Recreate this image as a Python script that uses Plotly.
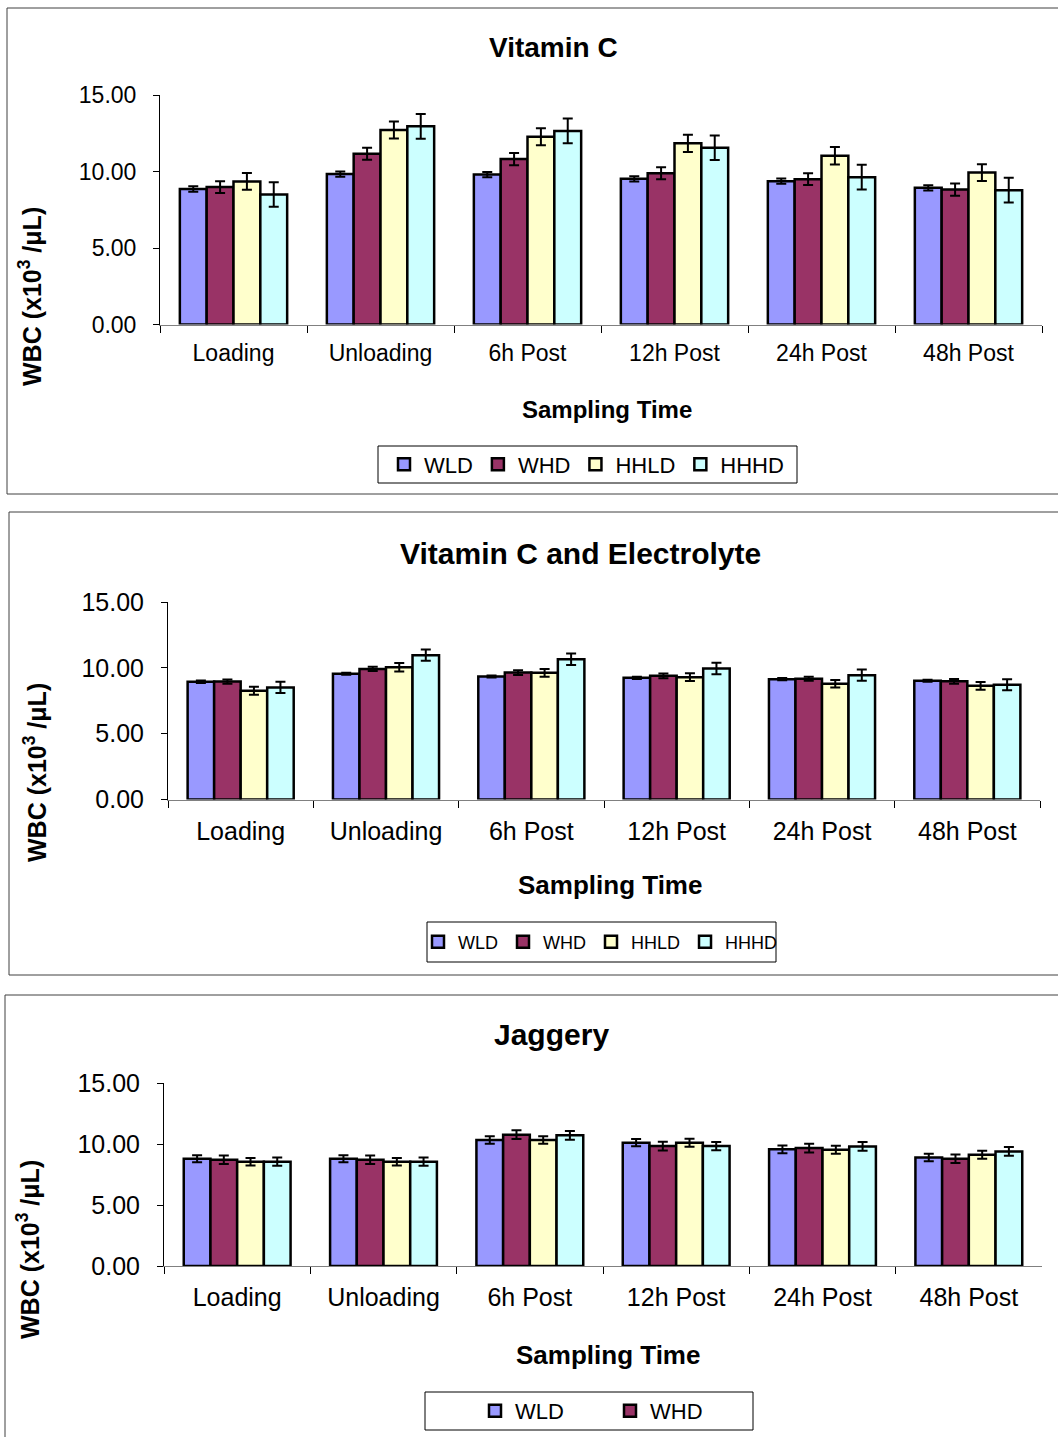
import plotly.graph_objects as go

# ---------------- data ----------------
categories = ["Loading", "Unloading", "6h Post", "12h Post", "24h Post", "48h Post"]
series_names = ["WLD", "WHD", "HHLD", "HHHD"]
tick_values = [0, 5, 10, 15]

# Panel 1: Vitamin C
vitc_WLD = [8.85, 9.83, 9.80, 9.52, 9.37, 8.93]
vitc_WHD = [8.98, 11.16, 10.81, 9.89, 9.50, 8.82]
vitc_HHLD = [9.35, 12.71, 12.27, 11.84, 11.03, 9.93]
vitc_HHHD = [8.49, 12.95, 12.65, 11.55, 9.63, 8.78]
vitc_err_WLD = [0.18, 0.17, 0.17, 0.17, 0.17, 0.17]
vitc_err_WHD = [0.39, 0.39, 0.40, 0.39, 0.39, 0.40]
vitc_err_HHLD = [0.55, 0.55, 0.55, 0.57, 0.57, 0.55]
vitc_err_HHHD = [0.80, 0.81, 0.81, 0.80, 0.81, 0.81]

# Panel 2: Vitamin C and Electrolyte
vce_WLD = [8.94, 9.55, 9.34, 9.24, 9.14, 9.02]
vce_WHD = [8.96, 9.92, 9.64, 9.39, 9.17, 8.98]
vce_HHLD = [8.26, 10.05, 9.62, 9.29, 8.79, 8.63]
vce_HHHD = [8.51, 10.96, 10.65, 9.95, 9.44, 8.71]
vce_err_WLD = [0.10, 0.08, 0.08, 0.08, 0.08, 0.08]
vce_err_WHD = [0.16, 0.16, 0.18, 0.18, 0.16, 0.18]
vce_err_HHLD = [0.30, 0.32, 0.30, 0.29, 0.28, 0.29]
vce_err_HHHD = [0.43, 0.43, 0.43, 0.44, 0.43, 0.42]

# Panel 3: Jaggery
jag_WLD = [8.79, 8.79, 10.33, 10.11, 9.56, 8.90]
jag_WHD = [8.71, 8.71, 10.76, 9.83, 9.67, 8.79]
jag_HHLD = [8.55, 8.55, 10.33, 10.11, 9.53, 9.12]
jag_HHHD = [8.55, 8.55, 10.71, 9.83, 9.80, 9.39]
jag_err_WLD = [0.29, 0.29, 0.30, 0.29, 0.31, 0.31]
jag_err_WHD = [0.34, 0.34, 0.36, 0.36, 0.36, 0.34]
jag_err_HHLD = [0.31, 0.31, 0.31, 0.33, 0.33, 0.33]
jag_err_HHHD = [0.34, 0.34, 0.36, 0.34, 0.36, 0.36]

panel_titles = ["Vitamin C", "Vitamin C and Electrolyte", "Jaggery"]
x_title = "Sampling Time"
y_title = "WBC (x10<sup>3</sup> /μL)"

# ---------------- styling / layout ----------------
W, H = 1058, 1437
FONT = "Liberation Sans, Arial, sans-serif"
colors = {"WLD": "#9999FF", "WHD": "#993366", "HHLD": "#FFFFCC", "HHHD": "#CCFFFF"}


def px(x):
    return x / W


def py(y):
    return 1 - y / H


panels = [
    dict(values=dict(WLD=vitc_WLD, WHD=vitc_WHD, HHLD=vitc_HHLD, HHHD=vitc_HHHD),
         errors=dict(WLD=vitc_err_WLD, WHD=vitc_err_WHD, HHLD=vitc_err_HHLD, HHHD=vitc_err_HHHD),
         legend_names=series_names,
         frame=(7, 8, 1075, 494), xdom=(160, 1042), ydom=(95, 324.5),
         title=(553, 47), xt=(607, 410), yt=(30, 297),
         fs_title=28, fs_tick=23, fs_xt=24, fs_yt=25, xstand=8,
         lbox=(378, 446, 797, 483), lx=384, lfont=22, lentry=None),
    dict(values=dict(WLD=vce_WLD, WHD=vce_WHD, HHLD=vce_HHLD, HHHD=vce_HHHD),
         errors=dict(WLD=vce_err_WLD, WHD=vce_err_WHD, HHLD=vce_err_HHLD, HHHD=vce_err_HHHD),
         legend_names=series_names,
         frame=(9, 512, 1075, 975), xdom=(168, 1040), ydom=(602, 799.5),
         title=(580, 553), xt=(610, 885), yt=(35, 773),
         fs_title=30, fs_tick=25, fs_xt=26, fs_yt=25, xstand=9,
         lbox=(427, 922, 776, 962), lx=418, lfont=18, lentry=None),
    dict(values=dict(WLD=jag_WLD, WHD=jag_WHD, HHLD=jag_HHLD, HHHD=jag_HHHD),
         errors=dict(WLD=jag_err_WLD, WHD=jag_err_WHD, HHLD=jag_err_HHLD, HHHD=jag_err_HHHD),
         legend_names=["WLD", "WHD"],
         frame=(5, 995, 1075, 1460), xdom=(164, 1042), ydom=(1083, 1266),
         title=(551, 1034), xt=(608, 1355), yt=(28, 1250),
         fs_title=30, fs_tick=25, fs_xt=26, fs_yt=25, xstand=9,
         lbox=(425, 1392, 753, 1430), lx=475, lfont=22, lentry=90),
]

fig = go.Figure()
shapes = []
annotations = []
layout_axes = {}

for i, p in enumerate(panels):
    k = "" if i == 0 else str(i + 1)
    leg = "legend" if i == 0 else f"legend{i + 1}"
    for name in series_names:
        fig.add_trace(go.Bar(
            x=categories, y=p["values"][name], name=name,
            xaxis="x" + k, yaxis="y" + k, legend=leg,
            showlegend=name in p["legend_names"],
            marker=dict(color=colors[name], line=dict(color="black", width=2.5)),
            error_y=dict(type="data", array=p["errors"][name], color="black",
                         thickness=2, width=5),
            hoverinfo="x+y+name",
        ))
    layout_axes["xaxis" + k] = dict(
        domain=[px(p["xdom"][0]), px(p["xdom"][1])], anchor="y" + k,
        type="category", showline=True, linecolor="#808080", linewidth=1,
        ticks="outside", tickson="boundaries", ticklen=7, tickcolor="black",
        tickfont=dict(size=p["fs_tick"], color="black", family=FONT),
        ticklabelstandoff=p["xstand"],
        showgrid=False, zeroline=False, fixedrange=True, automargin=False,
    )
    layout_axes["yaxis" + k] = dict(
        domain=[py(p["ydom"][1]), py(p["ydom"][0])], anchor="x" + k,
        range=[0, 15], tickvals=tick_values, tickformat=".2f",
        showline=True, linecolor="black", linewidth=1,
        ticks="outside", ticklen=6, tickcolor="black",
        tickfont=dict(size=p["fs_tick"], color="black", family=FONT),
        ticklabelstandoff=12,
        showgrid=False, zeroline=False, fixedrange=True, automargin=False,
    )
    fx0, fy0, fx1, fy1 = p["frame"]
    shapes.append(dict(type="rect", xref="paper", yref="paper",
                       x0=px(fx0), x1=px(fx1), y0=py(fy1), y1=py(fy0),
                       line=dict(color="#404040", width=1), fillcolor="rgba(0,0,0,0)"))
    bx0, by0, bx1, by1 = p["lbox"]
    shapes.append(dict(type="rect", xref="paper", yref="paper",
                       x0=px(bx0), x1=px(bx1), y0=py(by1), y1=py(by0),
                       line=dict(color="black", width=1), fillcolor="rgba(0,0,0,0)"))
    annotations.append(dict(text="<b>" + panel_titles[i] + "</b>", xref="paper", yref="paper",
                            x=px(p["title"][0]), y=py(p["title"][1]),
                            xanchor="center", yanchor="middle", showarrow=False,
                            font=dict(size=p["fs_title"], color="black", family=FONT)))
    annotations.append(dict(text="<b>" + x_title + "</b>", xref="paper", yref="paper",
                            x=px(p["xt"][0]), y=py(p["xt"][1]),
                            xanchor="center", yanchor="middle", showarrow=False,
                            font=dict(size=p["fs_xt"], color="black", family=FONT)))
    annotations.append(dict(text="<b>" + y_title + "</b>", xref="paper", yref="paper",
                            x=px(p["yt"][0]), y=py(p["yt"][1]), textangle=-90,
                            xanchor="center", yanchor="middle", showarrow=False,
                            font=dict(size=p["fs_yt"], color="black", family=FONT)))
    legend_cfg = dict(
        orientation="h", xref="paper", yref="paper",
        x=px(p["lx"]), xanchor="left",
        y=py((by0 + by1) / 2), yanchor="middle",
        bgcolor="rgba(0,0,0,0)", borderwidth=0,
        font=dict(size=p["lfont"], color="black", family=FONT),
        itemwidth=30, traceorder="normal",
    )
    if p["lentry"]:
        legend_cfg["entrywidth"] = p["lentry"]
        legend_cfg["entrywidthmode"] = "pixels"
    layout_axes[leg] = legend_cfg

fig.update_layout(
    width=W, height=H,
    margin=dict(l=0, r=0, t=0, b=0, pad=0, autoexpand=False),
    paper_bgcolor="white", plot_bgcolor="white",
    barmode="group", bargap=0.27, bargroupgap=0,
    font=dict(family=FONT, color="black"),
    shapes=shapes, annotations=annotations,
    **layout_axes,
)

fig.write_html("out.html", config={"displayModeBar": False},
               post_script="document.body.style.margin='0px';")
